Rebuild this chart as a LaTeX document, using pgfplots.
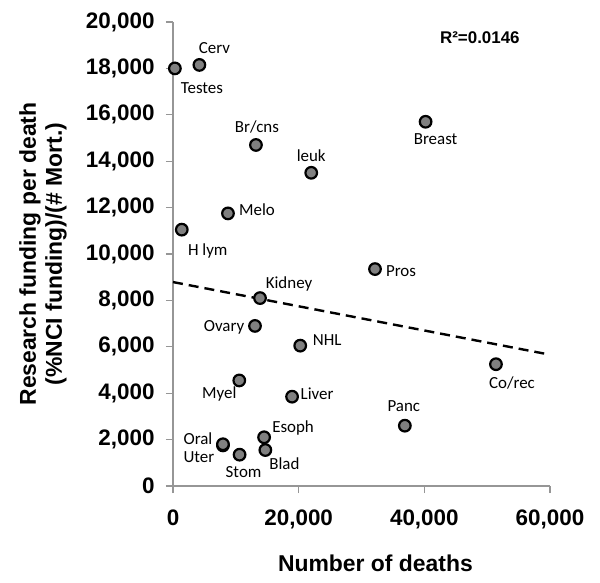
\documentclass[border=0pt]{standalone}
\usepackage{pgfplots}
\pgfplotsset{compat=1.18}
\usepackage{pgfplotstable}
\usepackage{fontspec}
\setmainfont{Liberation Sans}
\newfontfamily\carlito{Carlito}
\definecolor{axgray}{RGB}{150,150,150}
\definecolor{markgray}{RGB}{128,128,128}

\pgfplotstableread{
x y dx dy label
300 18000 27 -20 Testes
4200 18150 15 17 Cerv
13200 14700 1 18 Br/cns
22000 13500 0 17 leuk
40200 15700 10 -17 Breast
8750 11750 29 4 Melo
1400 11050 26 -21 {H lym}
32150 9350 26 -2 Pros
13850 8100 29 14 Kidney
13050 6900 -31 -1 Ovary
20250 6050 27 6 NHL
51400 5250 16 -19 Co/rec
10550 4550 -20 -14 Myel
18950 3850 25 3 Liver
36900 2600 -1 20 Panc
14500 2100 29 9 Esoph
7950 1750 -24 -12 Uter
7950 1800 -25 6 Oral
14700 1550 19 -14 Blad
10600 1350 4 -17 Stom
}\cancer

\begin{document}
\begin{tikzpicture}
\begin{axis}[
  scale only axis, width=377bp, height=464bp,
  xmin=0, xmax=60000, ymin=0, ymax=20000,
  axis x line=bottom, axis y line=left,
  axis line style={-, color=axgray, line width=1.3bp},
  tick style={color=axgray, line width=1.3bp},
  tick align=outside, major tick length=7bp,
  xtick={0,20000,40000,60000}, ytick={0,2000,...,20000},
  scaled ticks=false,
  /pgf/number format/1000 sep={,},
  /pgf/number format/assume math mode=true,
  ticklabel style={font=\bfseries\fontsize{22.5}{26}\selectfont, text=black},
  xticklabel style={yshift=-13bp},
  yticklabel style={xshift=-8bp},
  xlabel={Number of deaths},
  ylabel={Research funding per death\\(\%NCI funding)/(\# Mort.)},
  xlabel style={at={(axis description cs:0.537,-0.166)}, anchor=center, font=\bfseries\fontsize{23}{26}\selectfont},
  ylabel style={at={(axis description cs:-0.345,0.5)}, anchor=center, rotate=0, align=center, font=\bfseries\fontsize{23}{26}\selectfont},
  clip=false,
]
\addplot[black, dashed, line width=2.4bp, dash pattern=on 10bp off 6bp] coordinates {(0,8790) (60000,5660)};
\addplot[only marks, mark=*, mark size=5.8bp,
  mark options={fill=markgray, draw=black, line width=2.2bp},
  point meta=explicit symbolic,
  visualization depends on={\thisrow{dx} \as \dx},
  visualization depends on={\thisrow{dy} \as \dy},
  nodes near coords,
  nodes near coords style={anchor=center, xshift=\dx bp, yshift=\dy bp, font=\carlito\fontsize{17}{19}\selectfont, text=black, inner sep=0pt},
] table[x=x, y=y, meta=label] {\cancer};
\node[font=\bfseries\fontsize{17}{20}\selectfont] at (axis description cs:0.814,0.966) {R²=0.0146};
\end{axis}
\pgfresetboundingbox
\path[use as bounding box] (current axis.south west) ++(-173bp,-97bp) rectangle ++(600bp,583bp);
\end{tikzpicture}
\end{document}
